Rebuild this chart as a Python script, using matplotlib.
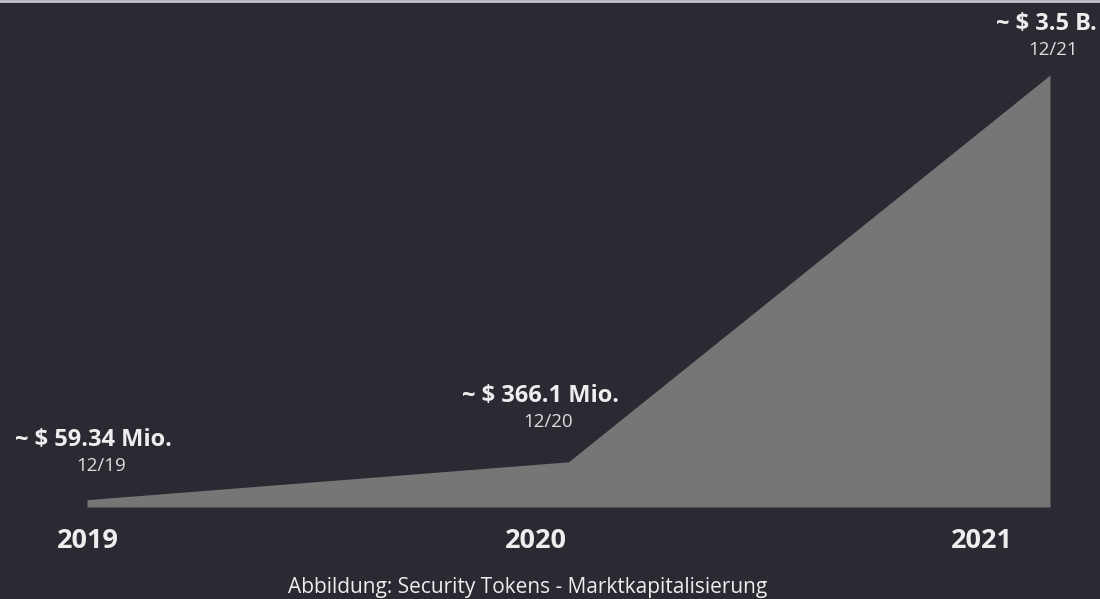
import matplotlib.pyplot as plt
from matplotlib.lines import Line2D
import numpy as np

# market cap of security tokens, in million USD
years = ["2019", "2020", "2021"]
dates = ["12/19", "12/20", "12/21"]
market_cap = [59.34, 366.1, 3500.0]
value_labels = ["~ $ 59.34 Mio.", "~ $ 366.1 Mio.", "~ $ 3.5 B."]
caption = "Abbildung: Security Tokens - Marktkapitalisierung"

BG = "#2a2a33"
FILL = "#767676"
TXT = "#eeeeee"

W, H = 1100, 599
fig = plt.figure(figsize=(W / 100, H / 100), dpi=100, facecolor=BG)
ax = fig.add_axes([0, 0, 1, 1])
ax.set_facecolor(BG)

x = np.arange(len(years))
ax.fill_between(x, market_cap, 0, color=FILL, linewidth=0)

# pixel layout: 2019 at x=87, 2021 at x=1050, baseline y=507, 3.5B at y=75
step = (1050 - 87) / 2
ax.set_xlim(-87 / step, (W - 87) / step)
per_px = market_cap[-1] / (507 - 75)
ax.set_ylim(-(H - 507) * per_px, 507 * per_px)
ax.axis("off")

def ftext(px, py, s, color=TXT, **kw):
    fig.text(px / W, 1 - py / H, s, ha="center", va="baseline",
             family="Open Sans", color=color, **kw)

# value labels (center x, baseline y)
val_pos = [(93, 446), (540, 402), (1046, 30)]
date_pos = [(101, 471), (548, 427), (1053, 55)]
year_pos = [(88, 548), (536, 548), (982, 548)]

for (vx, vy), s in zip(val_pos, value_labels):
    ftext(vx, vy, s, fontsize=17, fontweight="bold")
for (dx, dy), s in zip(date_pos, dates):
    ftext(dx, dy, s, color="#dddddd", fontsize=13.5)
for (yx, yy), s in zip(year_pos, years):
    ftext(yx, yy, s, fontsize=19.5, fontweight="bold")

ftext(528, 593, caption, fontsize=15)

# thin light border on top
fig.add_artist(Line2D([0, 1], [1 - 1 / H, 1 - 1 / H], transform=fig.transFigure,
                      color="#c4c4cc", linewidth=2))

fig.savefig("out.png", dpi=100, facecolor=BG)
